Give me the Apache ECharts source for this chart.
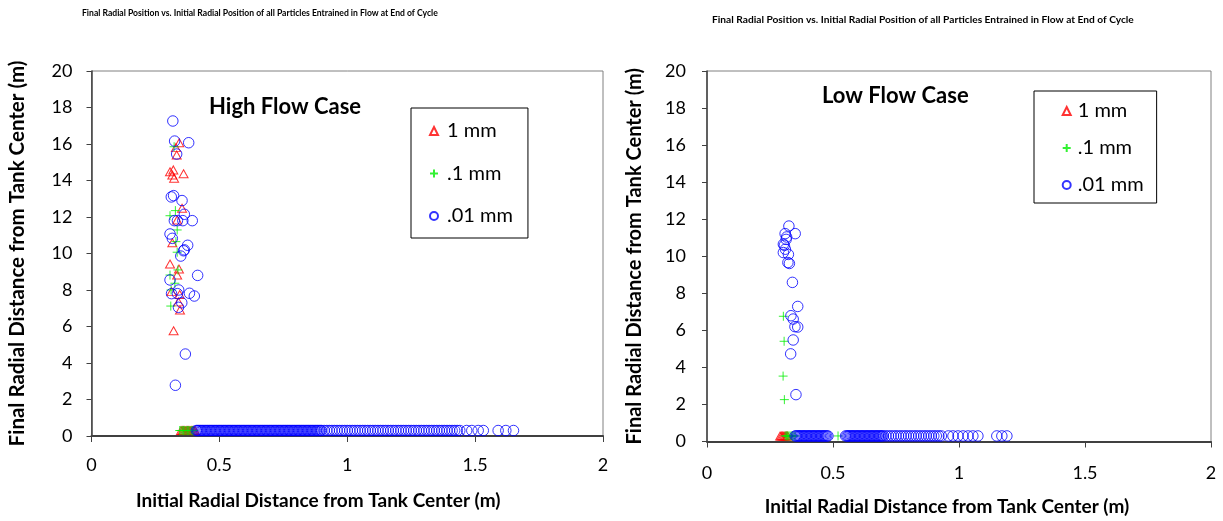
<!DOCTYPE html>
<html>
<head>
<meta charset="utf-8">
<title>Final Radial Position vs. Initial Radial Position</title>
<script src="https://cdn.jsdelivr.net/npm/echarts@6/dist/echarts.min.js"></script>
<style>
  html, body { margin: 0; padding: 0; background: #fff; }
  #chart { width: 1223px; height: 521px; }
</style>
</head>
<body>
<div id="chart"></div>
<script>
// texts
var chartTitle = 'Final Radial Position vs. Initial Radial Position of all Particles Entrained in Flow at End of Cycle';
var caseNames = ['High Flow Case', 'Low Flow Case'];
var sizeNames = ['1 mm', '.1 mm', '.01 mm'];
var xName = 'Initial Radial Distance from Tank Center (m)';
var yName = 'Final Radial Distance from Tank Center (m)';

// axis ticks
var xTicks = [0, 0.5, 1, 1.5, 2];
var yTicks = [0, 2, 4, 6, 8, 10, 12, 14, 16, 18, 20];

// particles that settled back near the floor sit at this final radius
var floorY = 0.3;

// ---- High flow case ----
var high1mm = [[0.343, 16.07], [0.330, 15.8], [0.333, 15.4], [0.307, 14.48], [0.320, 14.58], [0.316, 14.3],
  [0.323, 14.12], [0.360, 14.37], [0.354, 12.48], [0.335, 11.84], [0.316, 10.59], [0.307, 9.42], [0.342, 9.15],
  [0.335, 8.82], [0.313, 7.91], [0.345, 7.75], [0.340, 7.35], [0.346, 6.9], [0.321, 5.77]];
var high1mmFloor = [0.350, 0.355, 0.360, 0.365, 0.370, 0.375, 0.380, 0.385, 0.390, 0.395, 0.400, 0.405];

var high01mm = [[0.323, 15.85], [0.328, 12.35], [0.307, 12.07], [0.335, 11.29], [0.330, 10.65], [0.335, 10.07],
  [0.338, 9.1], [0.307, 8.82], [0.326, 8.37], [0.311, 8.0], [0.310, 7.12]];
var high01mmFloor = [0.345, 0.350, 0.355, 0.360, 0.365, 0.370, 0.375, 0.380, 0.385, 0.390, 0.395, 0.400];

var high001mm = [[0.318, 17.26], [0.325, 16.16], [0.380, 16.07], [0.333, 15.45], [0.312, 13.1], [0.321, 13.17],
  [0.354, 12.9], [0.363, 12.15], [0.324, 11.8], [0.336, 11.8], [0.357, 11.8], [0.394, 11.8], [0.307, 11.07],
  [0.316, 10.83], [0.376, 10.45], [0.360, 10.15], [0.349, 9.86], [0.363, 10.2], [0.415, 8.8], [0.307, 8.55],
  [0.341, 8.0], [0.313, 7.8], [0.336, 7.8], [0.383, 7.82], [0.402, 7.67], [0.353, 7.3], [0.340, 7.05],
  [0.367, 4.49], [0.328, 2.78]];
var high001mmFloor = [
  0.410, 0.415, 0.420, 0.425, 0.430, 0.435, 0.440, 0.445, 0.450, 0.455,
  0.460, 0.465, 0.470, 0.475, 0.480, 0.485, 0.490, 0.495, 0.500, 0.505,
  0.510, 0.515, 0.520, 0.525, 0.530, 0.535, 0.540, 0.545, 0.550, 0.555,
  0.560, 0.565, 0.570, 0.575, 0.580, 0.585, 0.590, 0.595, 0.600, 0.605,
  0.610, 0.615, 0.620, 0.625, 0.630, 0.635, 0.640, 0.645, 0.650, 0.655,
  0.660, 0.665, 0.670, 0.675, 0.680, 0.685, 0.690, 0.695, 0.700, 0.705,
  0.710, 0.715, 0.720, 0.725, 0.730, 0.735, 0.740, 0.745, 0.750, 0.755,
  0.760, 0.765, 0.770, 0.775, 0.780, 0.785, 0.790, 0.795, 0.800, 0.805,
  0.810, 0.815, 0.820, 0.825, 0.830, 0.835, 0.840, 0.845, 0.850, 0.855,
  0.860, 0.865, 0.870, 0.875, 0.880, 0.885, 0.890, 0.895, 0.900,
  0.91, 0.92, 0.93, 0.94, 0.95, 0.96, 0.97, 0.98, 0.99, 1.00,
  1.01, 1.02, 1.03, 1.04, 1.05, 1.06, 1.07, 1.08, 1.09, 1.10,
  1.11, 1.12, 1.13, 1.14, 1.15, 1.16, 1.17, 1.18, 1.19, 1.20,
  1.21, 1.22, 1.23, 1.24, 1.25, 1.26, 1.27, 1.28, 1.29, 1.30,
  1.31, 1.32, 1.33, 1.34, 1.35, 1.36, 1.37, 1.38, 1.39, 1.40,
  1.41, 1.42, 1.43, 1.44,
  1.467, 1.487, 1.512, 1.532, 1.59, 1.62, 1.65];

// ---- Low flow case ----
var low1mm = [];
var low1mmFloor = [0.290, 0.295, 0.300, 0.305, 0.310, 0.315, 0.320];

var low01mm = [[0.303, 6.76], [0.306, 5.41], [0.302, 3.53], [0.307, 2.26]];
var low01mmFloor = [0.310, 0.315, 0.320, 0.325, 0.330, 0.335, 0.340, 0.345, 0.350, 0.520];

var low001mm = [[0.325, 11.63], [0.350, 11.22], [0.310, 11.22], [0.316, 11.04], [0.314, 10.91], [0.303, 10.65],
  [0.307, 10.59], [0.311, 10.38], [0.303, 10.2], [0.323, 10.1], [0.321, 9.66], [0.327, 9.61], [0.339, 8.59],
  [0.360, 7.29], [0.333, 6.79], [0.342, 6.61], [0.349, 6.2], [0.360, 6.18], [0.342, 5.48], [0.332, 4.73],
  [0.353, 2.53]];
var low001mmFloor = [
  0.350, 0.355, 0.360, 0.365, 0.370, 0.375, 0.380, 0.385, 0.390, 0.395,
  0.400, 0.405, 0.410, 0.415, 0.420, 0.425, 0.430, 0.435, 0.440, 0.445,
  0.450, 0.455, 0.460, 0.465, 0.470, 0.475, 0.480,
  0.550, 0.555, 0.560, 0.565, 0.570, 0.575, 0.580, 0.585, 0.590, 0.595,
  0.600, 0.605, 0.610, 0.615, 0.620, 0.625, 0.630, 0.635, 0.640, 0.645,
  0.650, 0.655, 0.660, 0.665, 0.670, 0.675, 0.680, 0.685, 0.690, 0.695, 0.700,
  0.71, 0.72, 0.73, 0.74, 0.75, 0.76, 0.77, 0.78, 0.79, 0.80,
  0.81, 0.82, 0.83, 0.84, 0.85, 0.86, 0.87, 0.88, 0.89, 0.90,
  0.91, 0.92, 0.93,
  0.958, 0.976, 0.996, 1.016, 1.036, 1.055, 1.075, 1.15, 1.17, 1.19];

var font = 'Lato, "Liberation Sans", sans-serif';
var plusPath = 'path://M5,0 L5,10 M0,5 L10,5';

function withFloor(points, floorXs) {
  return points.concat(floorXs.map(function (x) { return [x, floorY]; }));
}

function sizeSeries(gi, data1, data01, data001) {
  return [
    {
      name: sizeNames[0], type: 'scatter', xAxisIndex: gi, yAxisIndex: gi,
      symbol: 'triangle', symbolSize: [9, 8], data: data1,
      itemStyle: { color: 'rgba(0,0,0,0)', borderColor: '#ff0000', borderWidth: 1 }
    },
    {
      name: sizeNames[1], type: 'scatter', xAxisIndex: gi, yAxisIndex: gi,
      symbol: plusPath, symbolSize: 9, data: data01,
      itemStyle: { color: 'rgba(0,0,0,0)', borderColor: '#00ee00', borderWidth: 1 }
    },
    {
      name: sizeNames[2], type: 'scatter', xAxisIndex: gi, yAxisIndex: gi,
      symbol: 'circle', symbolSize: 10.5, data: data001,
      itemStyle: { color: 'rgba(0,0,0,0)', borderColor: '#0000ff', borderWidth: 1 }
    }
  ];
}

function xAxisFor(gi, nameGap, namePad, labelMargin) {
  return {
    gridIndex: gi, type: 'value', min: xTicks[0], max: xTicks[xTicks.length - 1], interval: 0.5,
    name: xName, nameLocation: 'middle', nameGap: nameGap,
    nameTextStyle: { fontFamily: font, fontWeight: 'bold', fontSize: 19, color: '#000', padding: namePad },
    axisLine: { show: true, onZero: false, lineStyle: { color: '#404040', width: 2 } },
    axisTick: { show: true, length: 6, lineStyle: { color: '#404040', width: 1 } },
    axisLabel: { fontFamily: font, fontSize: 18, color: '#000', margin: labelMargin },
    splitLine: { show: false }
  };
}

function yAxisFor(gi, nameGap, nameSize, labelMargin) {
  return {
    gridIndex: gi, type: 'value', min: yTicks[0], max: yTicks[yTicks.length - 1], interval: 2,
    name: yName, nameLocation: 'middle', nameGap: nameGap, nameRotate: 90,
    nameTextStyle: { fontFamily: font, fontWeight: 'bold', fontSize: nameSize, color: '#000' },
    axisLine: { show: true, onZero: false, lineStyle: { color: '#404040', width: 1.5 } },
    axisTick: { show: true, length: 5, lineStyle: { color: '#404040', width: 1 } },
    axisLabel: { fontFamily: font, fontSize: 18, color: '#000', margin: labelMargin },
    splitLine: { show: false }
  };
}

function legendFor(left, top, gap, pad, textPad) {
  return {
    left: left, top: top, orient: 'vertical', data: sizeNames,
    itemWidth: 8, itemHeight: 8, itemGap: gap, padding: pad,
    borderColor: '#000', borderWidth: 1, backgroundColor: '#fff',
    textStyle: { fontFamily: font, fontSize: 20, color: '#000', lineHeight: 22, padding: [0, 0, 0, textPad] },
    selectedMode: false
  };
}

var chart = echarts.init(document.getElementById('chart'), null, { renderer: 'canvas' });

chart.setOption({
  animation: false,
  backgroundColor: '#fff',
  title: [
    { text: chartTitle, left: 82, top: 8.5, padding: 0, textStyle: { fontFamily: font, fontWeight: 'bold', fontSize: 8.6, color: '#000' } },
    { text: chartTitle, left: 712, top: 15, padding: 0, textStyle: { fontFamily: font, fontWeight: 'bold', fontSize: 10.2, color: '#000' } },
    { text: caseNames[0], left: 209, top: 96, padding: 0, textStyle: { fontFamily: font, fontWeight: 'bold', fontSize: 22, color: '#000' } },
    { text: caseNames[1], left: 822, top: 85, padding: 0, textStyle: { fontFamily: font, fontWeight: 'bold', fontSize: 22, color: '#000' } }
  ],
  grid: [
    { left: 91.5, top: 71, width: 511.5, height: 365, show: true, borderColor: '#808080', borderWidth: 1 },
    { left: 707, top: 71, width: 504, height: 372, show: true, borderColor: '#808080', borderWidth: 1 }
  ],
  xAxis: [xAxisFor(0, 55.5, [0, 58, 0, 0], 20), xAxisFor(1, 55.5, [0, 24, 0, 0], 23)],
  yAxis: [yAxisFor(0, 64, 20.5, 19), yAxisFor(1, 62, 20, 21)],
  legend: [
    legendFor(411, 108, 20.5, [12, 15, 11, 18], 4),
    legendFor(1034, 91, 15, [9, 13, 7, 27.7], 2)
  ],
  series: [].concat(
    sizeSeries(0, withFloor(high1mm, high1mmFloor), withFloor(high01mm, high01mmFloor), withFloor(high001mm, high001mmFloor)),
    sizeSeries(1, withFloor(low1mm, low1mmFloor), withFloor(low01mm, low01mmFloor), withFloor(low001mm, low001mmFloor))
  )
});
</script>
</body>
</html>
